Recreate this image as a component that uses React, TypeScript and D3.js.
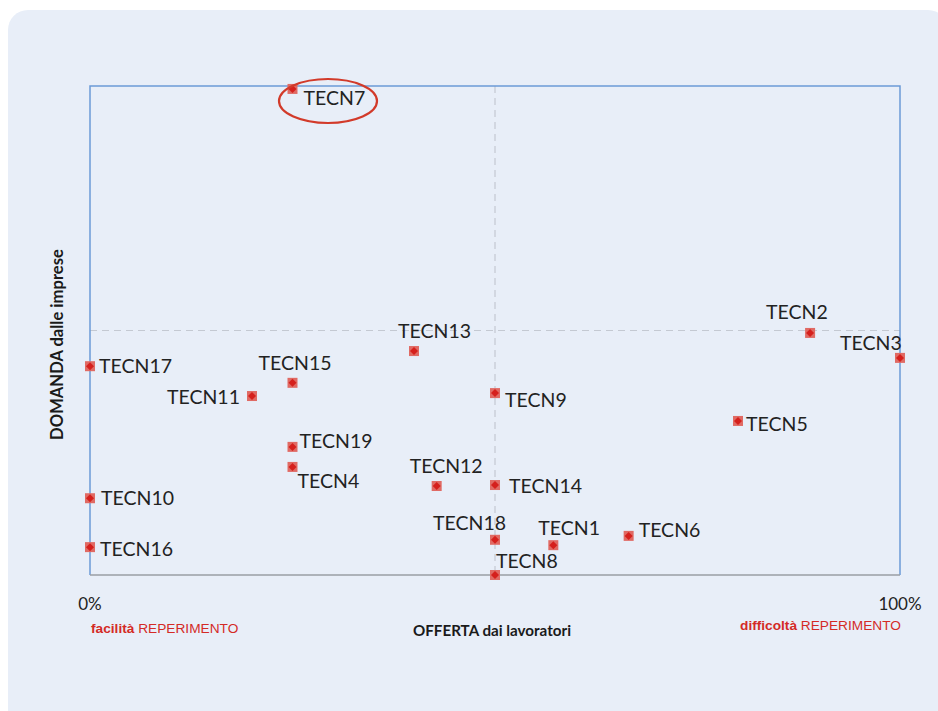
import React from "react";
import * as d3 from "d3";

const names = ["TECN1","TECN2","TECN3","TECN4","TECN5","TECN6","TECN7","TECN8","TECN9","TECN10","TECN11","TECN12","TECN13","TECN14","TECN15","TECN16","TECN17","TECN18","TECN19"];
const offerta = [57.2, 88.9, 100, 25, 80, 66.5, 25, 50, 50, 0, 20, 42.8, 40, 50, 25, 0, 0, 50, 25];
const domanda = [6.1, 49.5, 44.4, 22.1, 31.5, 8.0, 99.4, 0, 37.2, 15.7, 36.6, 18.2, 45.8, 18.4, 39.3, 5.7, 42.7, 7.2, 26.2];
// label placement (dx, dy relative to point)
const labelDx = [-15, -44, -60, 5, 8, 10, 11, 1, 10, 11, -12, -27, -16, 14, -34, 10, 9, -62, 7];
const labelDy = [-10, -14, -8, 21, 10, 1, 16, -7, 14, 7, 8, -13, -13, 8, -13, 9, 7, -10, 1];
const labelAnchor = ["start","start","start","start","start","start","start","start","start","start","end","start","start","start","start","start","start","start","start"];
const xTicks = [0, 100];

const W = 938, H = 711;
const L = 90, R = 900, T = 86, B = 575;

export default function App() {
  const x = d3.scaleLinear().domain([0, 100]).range([L, R]);
  const y = d3.scaleLinear().domain([0, 100]).range([B, T]);
  const font = "Lato, 'Open Sans', sans-serif";
  return (
    <svg width={W} height={H} style={{ position: "absolute", left: 0, top: 0 }} fontFamily={font}>
      <rect x={0} y={0} width={W} height={H} fill="#ffffff" />
      <rect x={8} y={10} width={940} height={720} rx={20} fill="#e8eef8" />
      {/* quadrant lines */}
      <line x1={x(50)} x2={x(50)} y1={T} y2={B} stroke="#c4c9d2" strokeWidth={1.2} strokeDasharray="7,5" />
      <line x1={L} x2={R} y1={y(50)} y2={y(50)} stroke="#c4c9d2" strokeWidth={1.2} strokeDasharray="7,5" />
      {/* frame */}
      <path d={`M${L},${B} L${L},${T} L${R},${T} L${R},${B}`} fill="none" stroke="#6b9bd6" strokeWidth={1.5} />
      <line x1={L} x2={R} y1={B} y2={B} stroke="#9a9ea5" strokeWidth={1.5} />
      {/* ticks */}
      {xTicks.map((t) => (
        <text key={t} x={x(t)} y={610} textAnchor="middle" fontSize={17} fill="#222">{t}%</text>
      ))}
      <text x={91} y={633} fontSize={13.7} fill="#d42a26" fontFamily="'Liberation Sans', Arial, sans-serif">
        <tspan fontWeight="bold">facilità</tspan> REPERIMENTO
      </text>
      <text x={901} y={630} textAnchor="end" fontSize={13.7} fill="#d42a26" fontFamily="'Liberation Sans', Arial, sans-serif">
        <tspan fontWeight="bold">difficoltà</tspan> REPERIMENTO
      </text>
      <text x={492} y={636} textAnchor="middle" fontSize={15.2} fontWeight="bold" fill="#1a1a1a">OFFERTA dai lavoratori</text>
      <text transform={`translate(63,${(T + B) / 2 + 14}) rotate(-90)`} textAnchor="middle" fontSize={16.6} fontWeight="bold" fill="#1a1a1a">DOMANDA dalle imprese</text>
      {/* points */}
      {names.map((n, i) => {
        const px = x(offerta[i]);
        const py = y(domanda[i]);
        return (
          <g key={n}>
            <rect x={px - 5} y={py - 5} width={10} height={10} fill="#e06a64" />
            <path d={`M${px},${py - 4} L${px + 4},${py} L${px},${py + 4} L${px - 4},${py} Z`} fill="#d5201d" />
            <text x={px + labelDx[i]} y={py + labelDy[i]} textAnchor={labelAnchor[i]} fontSize={19.5} fill="#222">{n}</text>
          </g>
        );
      })}
      <ellipse cx={328} cy={101} rx={49} ry={22} fill="none" stroke="#d23a2a" strokeWidth={2.2} />
    </svg>
  );
}
